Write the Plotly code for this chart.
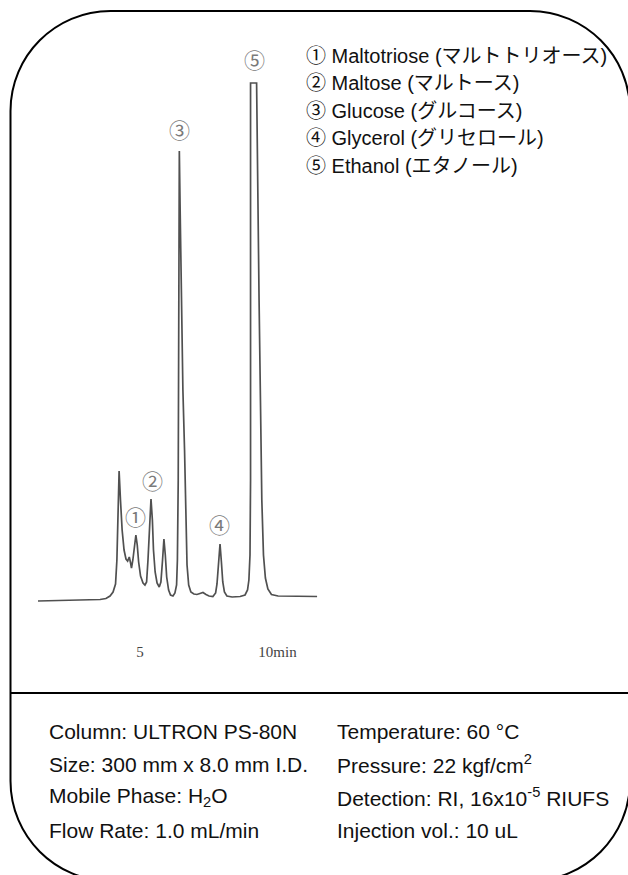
import plotly.graph_objects as go

# Chromatogram trace: retention time (min) and detector response (arbitrary units)
time_min = [1.29, 2.45, 3.55, 3.76, 3.91, 4.02, 4.11, 4.16, 4.21, 4.24,
            4.29, 4.35, 4.42, 4.49, 4.55, 4.61, 4.65, 4.69, 4.74, 4.80,
            4.85, 4.90, 4.95, 5.02, 5.11, 5.18, 5.24, 5.29, 5.35, 5.40,
            5.45, 5.49, 5.55, 5.62, 5.70, 5.76, 5.82, 5.87, 5.92, 5.97,
            6.04, 6.11, 6.20, 6.27, 6.33, 6.36, 6.39, 6.40, 6.42, 6.43,
            6.46, 6.50, 6.56, 6.62, 6.66, 6.71, 6.77, 6.85, 6.96, 7.07,
            7.18, 7.29, 7.40, 7.51, 7.65, 7.75, 7.80, 7.85, 7.91, 7.96,
            8.01, 8.07, 8.16, 8.35, 8.64, 8.82, 8.91, 8.96, 9.00, 9.02,
            9.03, 9.02, 9.24, 9.28, 9.33, 9.38, 9.43, 9.49, 9.56, 9.65,
            9.78, 10.02, 10.64, 11.44]
response = [-1, 0, 0.5, 1.5, 4, 8, 16, 40, 90, 129,
            100, 70, 50, 41, 39, 43, 38, 32, 40, 57,
            65, 55, 38, 24, 17, 15, 18, 40, 75, 101,
            80, 50, 28, 17, 13, 18, 40, 61, 45, 23,
            10, 5, 4, 7, 15, 40, 120, 220, 350, 449,
            390, 300, 210, 150, 80, 35, 15, 8, 6, 5.5,
            6.5, 7.5, 5.5, 4, 3.5, 7, 16, 38, 56, 38,
            18, 8, 4, 3, 3.5, 5, 10, 20, 45, 120,
            300, 517, 517, 400, 300, 200, 100, 45, 22, 11,
            5.5, 4, 3.5, 3.5]

# Peak markers
peak_ids = ["①", "②", "③", "④", "⑤"]
peak_label_t = [4.84, 5.44, 6.43, 7.89, 9.18]
peak_label_s = [84.5, 120, 471, 76, 541]

# Axis ticks
tick_vals = [5, 10]
tick_text = ["5", "10min"]

# Compound list
compounds = [
    "① Maltotriose (マルトトリオース)",
    "② Maltose (マルトース)",
    "③ Glucose (グルコース)",
    "④ Glycerol (グリセロール)",
    "⑤ Ethanol (エタノール)",
]

# Analysis conditions (left and right columns)
conditions_left = [
    "Column: ULTRON PS-80N",
    "Size: 300 mm x 8.0 mm I.D.",
    "Mobile Phase: H<sub>2</sub>O",
    "Flow Rate: 1.0 mL/min",
]
conditions_right = [
    "Temperature: 60 °C",
    "Pressure: 22 kgf/cm<sup>2</sup>",
    "Detection: RI, 16x10<sup>-5</sup> RIUFS",
    "Injection vol.: 10 uL",
]

W, H = 628, 875


def px(x, y):
    """Pixel position -> paper fraction string."""
    return f"{x / W:.5f},{1 - y / H:.5f}"


def rounded_rect_path(x0, y0, x1, y1, r):
    k = 0.5523 * r
    return (
        f"M {px(x0 + r, y0)} L {px(x1 - r, y0)} "
        f"C {px(x1 - r + k, y0)} {px(x1, y0 + r - k)} {px(x1, y0 + r)} "
        f"L {px(x1, y1 - r)} "
        f"C {px(x1, y1 - r + k)} {px(x1 - r + k, y1)} {px(x1 - r, y1)} "
        f"L {px(x0 + r, y1)} "
        f"C {px(x0 + r - k, y1)} {px(x0, y1 - r + k)} {px(x0, y1 - r)} "
        f"L {px(x0, y0 + r)} "
        f"C {px(x0, y0 + r - k)} {px(x0 + r - k, y0)} {px(x0 + r, y0)} Z"
    )


fig = go.Figure()

fig.add_trace(go.Scatter(
    x=time_min, y=response, mode="lines",
    line=dict(color="#505050", width=1.7),
    hoverinfo="skip", showlegend=False,
))

for lab, t, s in zip(peak_ids, peak_label_t, peak_label_s):
    fig.add_annotation(
        x=t, y=s, xref="x", yref="y", text=lab, showarrow=False,
        font=dict(family="Noto Sans CJK JP", size=21, color="#7a7a7a"),
        xanchor="center", yanchor="middle",
    )

text_font = dict(family="Liberation Sans, Arial, Noto Sans CJK JP", size=20, color="#111111")

for i, line in enumerate(compounds):
    fig.add_annotation(
        x=304 / W, y=1 - (56 + 27.5 * i) / H, xref="paper", yref="paper",
        text=line, showarrow=False, xanchor="left", yanchor="middle",
        font=text_font,
    )

cond_font = dict(family="Liberation Sans, Arial", size=21, color="#111111")
for i, (lt, rt) in enumerate(zip(conditions_left, conditions_right)):
    yy = 1 - (731 + 33.2 * i) / H
    fig.add_annotation(x=47 / W, y=yy, xref="paper", yref="paper", text=lt,
                       showarrow=False, xanchor="left", yanchor="middle", font=cond_font)
    fig.add_annotation(x=335 / W, y=yy, xref="paper", yref="paper", text=rt,
                       showarrow=False, xanchor="left", yanchor="middle", font=cond_font)

# Outer rounded frame and divider
fig.add_shape(type="path", xref="paper", yref="paper",
              path=rounded_rect_path(10.5, 11, 630, 881, 100),
              line=dict(color="black", width=2))
fig.add_shape(type="line", xref="paper", yref="paper",
              x0=10.5 / W, x1=630 / W, y0=1 - 693 / H, y1=1 - 693 / H,
              line=dict(color="black", width=2))

fig.update_xaxes(
    domain=[20 / W, 340 / W], range=[0.636, 12.273],
    showgrid=False, zeroline=False, showline=False, ticks="",
    tickvals=tick_vals, ticktext=tick_text,
    tickfont=dict(family="Liberation Serif, DejaVu Serif", size=15, color="#444444"),
)
fig.update_yaxes(
    domain=[1 - 641 / H, 1 - 40 / H], range=[-41, 560],
    showgrid=False, zeroline=False, showline=False, showticklabels=False, ticks="",
)

fig.update_layout(
    width=W, height=H,
    margin=dict(l=0, r=0, t=0, b=0),
    paper_bgcolor="white", plot_bgcolor="white",
    showlegend=False,
)

fig.write_html("out.html", config={"displayModeBar": False})
